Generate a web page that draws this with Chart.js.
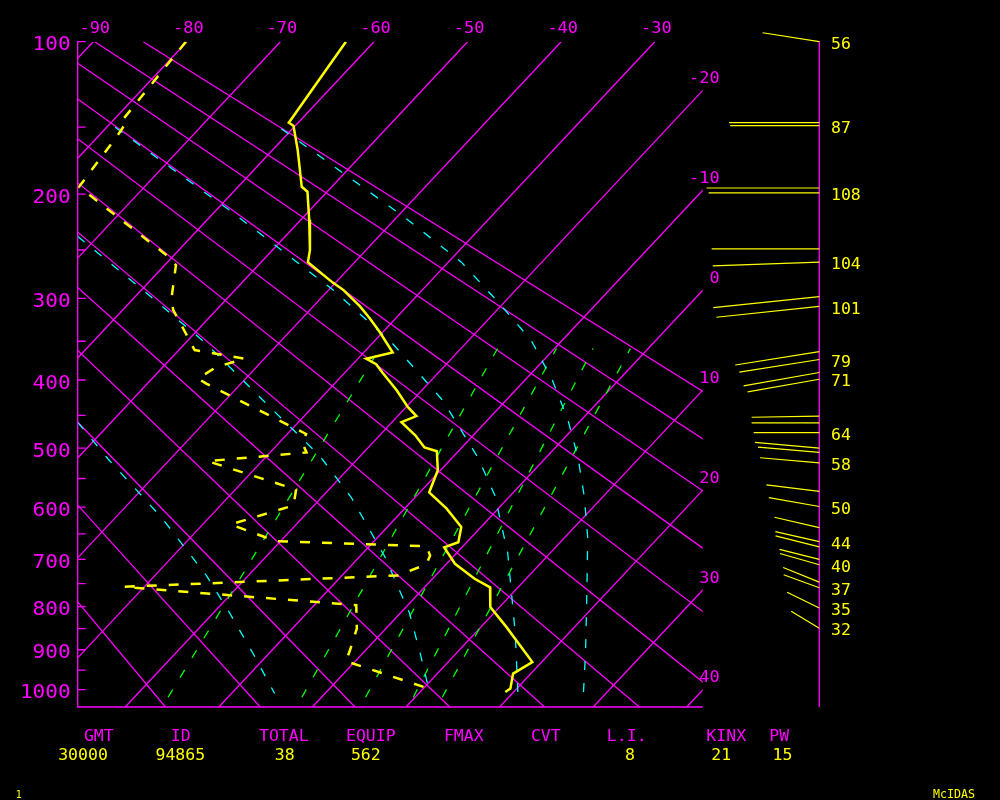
<!DOCTYPE html>
<html lang="en">
<head>
<meta charset="UTF-8">
<title>Sounding 94865</title>
<script src="https://cdn.jsdelivr.net/npm/chart.js"></script>
<style>
  html, body { margin: 0; padding: 0; background: #000; }
  canvas { display: block; }
</style>
</head>
<body>
<canvas id="skewt" width="1000" height="800"></canvas>
<script>
  // ---- sounding: temperature profile (hPa, C) ----
  const tempP = [100, 147, 149, 166, 194, 198, 222, 250, 262, 283, 291, 309, 323, 339, 364, 372, 379, 390, 414, 438,
    451, 460, 480, 499, 505, 536, 574, 603, 637, 666, 676, 709, 740, 758, 801, 846, 930, 959, 997, 1006];
  const tempT = [-63.0, -61.0, -60.2, -57.3, -53.2, -52.1, -49.1, -46.0, -45.0, -40.3, -38.4, -35.0, -32.7, -30.3, -26.9, -29.1, -27.5, -26.0, -22.7, -19.8,
    -18.0, -19.0, -16.2, -14.0, -12.3, -10.3, -9.0, -5.5, -2.1, -0.9, -1.9, 0.9, 4.5, 7.0, 9.0, 12.7, 19.0, 18.1, 19.3, 19.1];

  // ---- dewpoint profile ----
  const dewP = [100, 147, 149, 156, 194, 258, 265, 302, 313, 361, 372, 383, 398, 405, 478, 492, 507, 521, 569, 597,
    632, 664, 674, 692, 710, 733, 757, 797, 850, 900, 928, 998];
  const dewT = [-80.1, -79.0, -78.3, -78.0, -77.0, -60.1, -58.8, -55.8, -54.6, -48.3, -42.1, -44.3, -45.1, -43.7, -28.0, -27.5, -26.1, -35.8, -23.5, -22.2,
    -27.0, -20.5, -3.9, -2.6, -2.1, -4.0, -32.2, -5.5, -3.1, -1.7, -1.0, 10.7];

  // ---- moist adiabats (cyan) ----
  const moist1P = [150, 180, 216, 291, 351, 428, 515, 579, 688, 861, 1015];
  const moist1T = [-79.1, -68.8, -57.9, -39.5, -28.1, -16.8, -7.3, -1.7, 5.5, 14.3, 20.8];
  const moist2P = [151, 183, 220, 262, 304, 349, 400, 457, 515, 583, 656, 729, 815, 906, 1010];
  const moist2T = [-61.2, -50.2, -39.1, -28.6, -20.7, -13.3, -7.1, -1.4, 3.4, 8.1, 12.4, 16.0, 19.9, 23.7, 27.6];
  const moist3P = [237, 293, 353, 428, 512, 583, 696, 815, 906, 1010];
  const moist3T = [-72.2, -59.4, -47.7, -36.0, -24.4, -16.8, -7.2, 1.0, 6.0, 11.2];
  const moist4P = [460, 518, 619, 733, 815, 909, 1010];
  const moist4T = [-53.6, -46.6, -35.1, -24.5, -18.2, -11.7, -5.4];

  // ---- mixing ratio lines (green), temperature at bottom / top pressure ----
  const mixP = [1020, 359];
  const mixBottomT = [-16.4, -2.1, 4.7, 9.8, 12.9];
  const mixTopT = [-28.7, -16.1, -9.8, -5.9, -1.9];

  // ---- winds ----
  const windP = [100, 147, 149, 195, 199, 249, 262, 298, 309, 363, 373, 390, 399, 451, 461, 476, 500, 507, 524, 572,
    599, 638, 665, 675, 700, 711, 747, 759, 803, 849];
  const windDir = [279, 270, 270, 270, 270, 270, 268, 264, 264, 261, 261, 260, 260, 269, 270, 270, 275, 275, 275, 277,
    280, 283, 283, 284, 284, 286, 292, 290, 296, 301];
  const windSpd = [56, 88, 87, 110, 108, 105, 104, 104, 101, 83, 79, 75, 71, 66, 66, 64, 63, 60, 58, 52,
    50, 45, 44, 44, 40, 40, 38, 37, 35, 32];
  const windTag = [1, 0, 1, 0, 1, 0, 1, 0, 1, 0, 1, 0, 1, 0, 0, 1, 0, 0, 1, 0,
    1, 0, 1, 0, 0, 1, 0, 1, 1, 1];

  // ---- diagram grid & axes ----
  const isoT = [-90, -80, -70, -60, -50, -40, -30, -20, -10, 0, 10, 20, 30, 40];
  const isoTopLabels = [-90, -80, -70, -60, -50, -40, -30];
  const isoRightLabels = [-20, -10, 0, 10, 20, 30, 40];
  const thetaC = [-20, -10, 0, 10, 20, 30, 40, 50, 60, 70, 80, 90];
  const pLabels = [100, 200, 300, 400, 500, 600, 700, 800, 900, 1000];

  // ---- station summary ----
  const statNames = ['GMT', 'ID', 'TOTAL', 'EQUIP', 'FMAX', 'CVT', 'L.I.', 'KINX', 'PW'];
  const statValues = ['30000', '94865', '38', '562', '', '', '8', '21', '15'];

  // layout (pixels)
  const statNameX = [98.8, 180.8, 283.8, 370.8, 463.8, 545.8, 626.7, 726.2, 779.2];
  const statValueX = [83, 180.3, 284.7, 365.8, 0, 0, 630, 721.3, 782.5];
  const WIND_X = 819.3;

  const MAGENTA = '#ff00ff', YELLOW = '#ffff00', CYAN = '#00ffff', GREEN = '#00ff00';
  const FONT = '"DejaVu Sans Mono", monospace';

  // stuve-type skew: y ~ p^kappa, x = T - SKEW * (p^kappa - 100^kappa)
  const KAPPA = 0.286;
  const P_TOP = 100, P_BOT = 1046;
  const SKEW = 18.64;
  const X_MIN = -91.66, X_MAX = -24.88;
  const pk = p => Math.pow(p, KAPPA);
  const toXY = (p, t) => ({ x: t - SKEW * (pk(p) - pk(P_TOP)), y: pk(p) });
  const series = (ps, ts) => ps.map((p, i) => toXY(p, ts[i]));

  function lineSet(points, color, width, dash, order) {
    return {
      data: points, showLine: true, borderColor: color, borderWidth: width,
      borderDash: dash || [], pointRadius: 0, pointHoverRadius: 0, fill: false, tension: 0, order: order
    };
  }

  const datasets = [
    lineSet(series(tempP, tempT), YELLOW, 2.5, null, 0),
    lineSet(series(dewP, dewT), YELLOW, 2.5, [10, 12], 1),
    lineSet(series(moist1P, moist1T), CYAN, 1.3, [9, 13], 2),
    lineSet(series(moist2P, moist2T), CYAN, 1.3, [9, 13], 2),
    lineSet(series(moist3P, moist3T), CYAN, 1.3, [9, 13], 2),
    lineSet(series(moist4P, moist4T), CYAN, 1.3, [9, 13], 2)
  ];
  mixBottomT.forEach((t, i) => {
    datasets.push(lineSet([toXY(mixP[0], t), toXY(mixP[1], mixTopT[i])], GREEN, 1.3, [9, 14], 3));
  });
  isoT.forEach(t => {
    datasets.push(lineSet([toXY(P_BOT, t), toXY(P_TOP, t)], MAGENTA, 1.3, null, 5));
  });
  thetaC.forEach(th => {
    const tAt = p => (th + 274.15) * Math.pow(p / 1000, KAPPA) - 273.15;
    datasets.push(lineSet([toXY(P_BOT, tAt(P_BOT)), toXY(P_TOP, tAt(P_TOP))], MAGENTA, 1.3, null, 5));
  });

  // text helper: vertically centred digits, slightly widened like the stroke font
  function text(ctx, s, x, cy, size, color, align, sx) {
    ctx.save();
    ctx.font = size + 'px ' + FONT;
    ctx.fillStyle = color;
    ctx.textAlign = align;
    ctx.textBaseline = 'alphabetic';
    ctx.translate(x, cy + size * 0.3645);
    ctx.scale(sx, 1);
    ctx.fillText(s, 0, 0);
    ctx.restore();
  }

  const decor = {
    id: 'decor',
    beforeDraw(chart) {
      const c = chart.ctx;
      c.save();
      c.fillStyle = '#000';
      c.fillRect(0, 0, chart.width, chart.height);
      c.restore();
    },
    afterDatasetsDraw(chart) {
      const c = chart.ctx, xs = chart.scales.x, ys = chart.scales.y, a = chart.chartArea;
      const yOf = p => ys.getPixelForValue(pk(p));

      c.save();
      c.strokeStyle = MAGENTA;
      c.lineWidth = 1.3;
      c.beginPath();
      c.moveTo(a.left, a.top - 0.7);
      c.lineTo(a.left, a.bottom);
      c.lineTo(a.right, a.bottom);
      for (let p = 100; p <= 1000; p += 50) {
        const y = yOf(p);
        c.moveTo(a.left, y);
        c.lineTo(a.left + 8, y);
      }
      // wind axis
      c.moveTo(WIND_X, yOf(P_TOP) - 0.7);
      c.lineTo(WIND_X, a.bottom);
      c.stroke();

      // wind sticks
      c.strokeStyle = YELLOW;
      c.lineWidth = 1.2;
      c.beginPath();
      windP.forEach((p, i) => {
        const y = yOf(p), len = windSpd[i] * 1.025, r = windDir[i] * Math.PI / 180;
        c.moveTo(WIND_X, y);
        c.lineTo(WIND_X + len * Math.sin(r), y - len * Math.cos(r));
      });
      c.stroke();
      c.restore();

      windP.forEach((p, i) => {
        if (windTag[i]) text(c, String(windSpd[i]), 831, yOf(p) + 1.7, 15, YELLOW, 'left', 1.1);
      });

      // pressure labels
      pLabels.forEach(p => text(c, String(p), a.left - 7, yOf(p) + 1.8, 19, MAGENTA, 'right', 1.11));

      // isotherm labels
      isoTopLabels.forEach(t => text(c, String(t), xs.getPixelForValue(t) + 1.5, 27.5, 15, MAGENTA, 'center', 1.13));
      isoRightLabels.forEach(t => {
        const y = ys.getPixelForValue(pk(P_TOP) + (t - X_MAX) / SKEW);
        text(c, String(t), a.right + 17, y - 13, 15, MAGENTA, 'right', 1.13);
      });

      // station summary
      statNames.forEach((s, i) => {
        text(c, s, statNameX[i], 735.3, 15, MAGENTA, 'center', 1.1);
        if (statValues[i]) text(c, statValues[i], statValueX[i], 755, 15, YELLOW, 'center', 1.1);
      });
      text(c, '1', 18.7, 794.3, 10, YELLOW, 'center', 1);
      text(c, 'McIDAS', 954, 793.3, 12, YELLOW, 'center', 0.97);
    }
  };

  new Chart(document.getElementById('skewt').getContext('2d'), {
    type: 'scatter',
    data: { datasets: datasets },
    options: {
      responsive: false,
      devicePixelRatio: 1,
      animation: false,
      events: [],
      layout: { padding: { left: 77.7, top: 41.7, right: 297.3, bottom: 93 } },
      plugins: { legend: { display: false }, tooltip: { enabled: false } },
      scales: {
        x: { type: 'linear', display: false, min: X_MIN, max: X_MAX },
        y: { type: 'linear', display: false, min: pk(P_TOP), max: pk(P_BOT), reverse: true }
      }
    },
    plugins: [decor]
  });
</script>
</body>
</html>
